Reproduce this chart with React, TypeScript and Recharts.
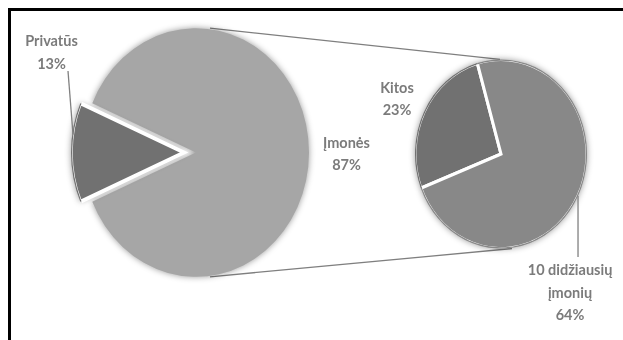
import React from 'react';
import { PieChart, Pie, Cell, Customized } from 'recharts';

// primary pie
const mainNames = ['Privatūs', 'Įmonės'];
const mainValues = [13, 87];
// secondary pie (split of Įmonės)
const subNames = ['Kitos', '10 didžiausių įmonių'];
const subValues = [23, 64];
const subLines: Record<string, string[]> = {
  Kitos: ['Kitos'],
  '10 didžiausių įmonių': ['10 didžiausių', 'įmonių'],
};

const mainData = mainNames.map((name, i) => ({ name, value: mainValues[i] }));
const subData = subNames.map((name, i) => ({ name, value: subValues[i] }));

// the source picture is stretched vertically a bit
const S = 1.1;
const W = 623;
const H = 310;

const BIG = { cx: 196, cy: 152.5 / S, r: 113, explode: 12 };
const SMALL = { cx: 501, cy: 154 / S, r: 86 };

const TEXT = '#7b7b7b';
const FONT = 'Lato, "Open Sans", sans-serif';
const C_MAIN = '#a6a6a6';
const C_DARK = '#717171';
const C_SUB = '#888888';

// label placement relative to the slice's outer point (page px)
const labelPos: Record<string, { dx: number; dy: number; lh: number; lead?: [number, number, number, number] }> = {
  Privatūs: { dx: -19.5, dy: -106.5, lh: 22.5, lead: [-3, -81.5, 2, -18] },
  Įmonės: { dx: 37.5, dy: -4.5, lh: 21.5 },
  Kitos: { dx: -27, dy: -19, lh: 22.5 },
  '10 didžiausių įmonių': { dx: -8, dy: 79, lh: 22.5, lead: [0, 0, 0, 61] },
};

const RAD = Math.PI / 180;

function makeLabel(only: string[]) {
  return (p: any) => {
    if (!only.includes(p.name)) return null;
    const pos = labelPos[p.name];
    const ox = p.cx + p.outerRadius * Math.cos(-p.midAngle * RAD);
    const oy = p.cy + p.outerRadius * Math.sin(-p.midAngle * RAD);
    const lines = [...(subLines[p.name] || [p.name]), `${p.value}%`];
    return (
      <g transform={`translate(${ox},${oy}) scale(1,${1 / S})`}>
        {pos.lead && (
          <line
            x1={pos.lead[0]}
            y1={pos.lead[1]}
            x2={pos.lead[2]}
            y2={pos.lead[3]}
            stroke="#808080"
            strokeWidth={1.3}
          />
        )}
        <text
          textAnchor="middle"
          fill={TEXT}
          fontFamily={FONT}
          fontWeight={700}
          fontSize={14.5}
        >
          {lines.map((t, i) => (
            <tspan key={i} x={pos.dx} y={pos.dy + i * pos.lh}>
              {t}
            </tspan>
          ))}
        </text>
      </g>
    );
  };
}

// series lines + clip circles that keep the white slice borders off the outer rim
const Extras = () => (
  <g>
    <defs>
      <clipPath id="clipBig">
        <circle cx={BIG.cx - BIG.explode} cy={BIG.cy} r={BIG.r - 1.2} />
      </clipPath>
      <clipPath id="clipSmall">
        <circle cx={SMALL.cx} cy={SMALL.cy} r={SMALL.r - 1.2} />
      </clipPath>
    </defs>
    <g stroke="#7f7f7f" strokeWidth={1.2} fill="none">
      <line x1={BIG.cx + 14} y1={BIG.cy - BIG.r} x2={SMALL.cx - 1} y2={SMALL.cy - SMALL.r} />
      <line x1={BIG.cx + 14} y1={BIG.cy + BIG.r} x2={SMALL.cx + 11} y2={SMALL.cy + SMALL.r} />
    </g>
  </g>
);

const css = `
.recharts-pie-sector path { filter: drop-shadow(0 0 3px rgba(0,0,0,0.4)); }
.edge-big .recharts-pie-sector path { filter: none; clip-path: url(#clipBig); }
.edge-small .recharts-pie-sector path { filter: none; clip-path: url(#clipSmall); }
`;

export default function App() {
  const start = 180 - (mainValues[0] / 100) * 180;
  return (
    <div style={{ position: 'absolute', left: 0, top: 0, width: 623, height: 340, overflow: 'hidden', background: '#fff' }}>
      <style>{css}</style>
      <div
        style={{
          position: 'absolute',
          left: 8,
          top: 8,
          width: 640,
          height: 360,
          borderTop: '3px solid #000',
          borderLeft: '3px solid #000',
        }}
      />
      <div style={{ position: 'absolute', left: 0, top: 0, transform: `scaleY(${S})`, transformOrigin: '0 0' }}>
        <PieChart width={W} height={H} margin={{ top: 0, right: 0, bottom: 0, left: 0 }}>
          <Customized component={Extras} />
          <Pie
            data={mainData}
            dataKey="value"
            nameKey="name"
            cx={BIG.cx}
            cy={BIG.cy}
            outerRadius={BIG.r}
            startAngle={start}
            endAngle={start + 360}
            label={makeLabel(['Įmonės'])}
            labelLine={false}
            isAnimationActive={false}
          >
            <Cell fill="none" stroke="none" />
            <Cell fill={C_MAIN} stroke="none" />
          </Pie>
          <Pie
            data={mainData}
            dataKey="value"
            nameKey="name"
            cx={BIG.cx - BIG.explode}
            cy={BIG.cy}
            outerRadius={BIG.r}
            startAngle={start}
            endAngle={start + 360}
            label={makeLabel(['Privatūs'])}
            labelLine={false}
            isAnimationActive={false}
          >
            <Cell fill={C_DARK} stroke="none" />
            <Cell fill="none" stroke="none" />
          </Pie>
          <Pie
            className="edge-big"
            data={mainData}
            dataKey="value"
            nameKey="name"
            cx={BIG.cx - BIG.explode}
            cy={BIG.cy}
            outerRadius={BIG.r}
            startAngle={start}
            endAngle={start + 360}
            labelLine={false}
            isAnimationActive={false}
          >
            <Cell fill={C_DARK} stroke="#fff" strokeWidth={3.5} />
            <Cell fill="none" stroke="none" />
          </Pie>
          <Pie
            data={subData}
            dataKey="value"
            nameKey="name"
            cx={SMALL.cx}
            cy={SMALL.cy}
            outerRadius={SMALL.r}
            startAngle={106}
            endAngle={466}
            label={makeLabel(subNames)}
            labelLine={false}
            isAnimationActive={false}
          >
            <Cell fill={C_DARK} stroke="none" />
            <Cell fill={C_SUB} stroke="none" />
          </Pie>
          <Pie
            className="edge-small"
            data={subData}
            dataKey="value"
            nameKey="name"
            cx={SMALL.cx}
            cy={SMALL.cy}
            outerRadius={SMALL.r}
            startAngle={106}
            endAngle={466}
            labelLine={false}
            isAnimationActive={false}
          >
            <Cell fill={C_DARK} stroke="#fff" strokeWidth={3} />
            <Cell fill={C_SUB} stroke="#fff" strokeWidth={3} />
          </Pie>
        </PieChart>
      </div>
    </div>
  );
}
